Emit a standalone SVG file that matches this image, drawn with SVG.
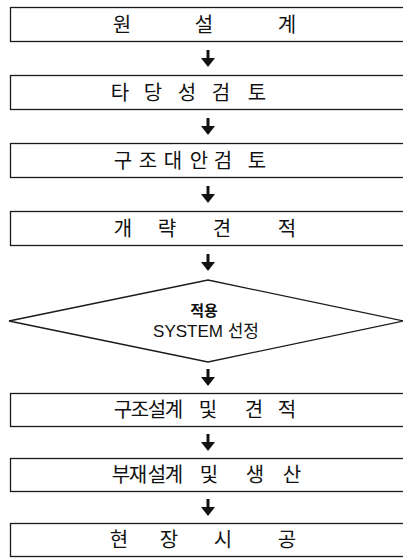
<svg xmlns="http://www.w3.org/2000/svg" width="403" height="559" viewBox="0 0 403 559">
<defs>
<style>
.box{fill:#fff;stroke:#1a1a1a;stroke-width:1.3}
.t{font-family:"Noto Sans CJK KR","Liberation Sans",sans-serif;font-size:20px;fill:#111;text-anchor:middle}
.d{font-family:"Liberation Sans","Noto Sans CJK KR",sans-serif;font-size:17px;fill:#111;text-anchor:middle}
.dk{font-family:"Noto Sans CJK KR","Liberation Sans",sans-serif;font-size:15px;font-weight:bold;fill:#111;text-anchor:middle}
.c{stroke:#111;stroke-width:3;fill:none}
</style>
<marker id="ah" markerUnits="userSpaceOnUse" markerWidth="9" markerHeight="14" viewBox="0 0 9 14" refX="0" refY="7" orient="auto">
<path d="M0,0 L9,7 L0,14 Z" fill="#111"/>
</marker>
</defs>
<rect width="403" height="559" fill="#fff"/>

<g id="connectors">
<line class="c" x1="208" y1="50" x2="208" y2="58" marker-end="url(#ah)"/>
<line class="c" x1="208" y1="118" x2="208" y2="126" marker-end="url(#ah)"/>
<line class="c" x1="208" y1="186" x2="208" y2="194" marker-end="url(#ah)"/>
<line class="c" x1="208" y1="254" x2="208" y2="262" marker-end="url(#ah)"/>
<line class="c" x1="208" y1="369" x2="208" y2="377" marker-end="url(#ah)"/>
<line class="c" x1="208" y1="434" x2="208" y2="442" marker-end="url(#ah)"/>
<line class="c" x1="208" y1="499" x2="208" y2="507" marker-end="url(#ah)"/>
</g>

<g id="n1">
<rect class="box" x="10.5" y="7.5" width="400" height="34"/>
<text class="t" x="122 163 204 245 287" y="32">원 설 계</text>
</g>
<g id="n2">
<rect class="box" x="10.5" y="75.5" width="400" height="34"/>
<text class="t" x="120 136 153 170 187 204 221 239 257" y="100">타 당 성 검 토</text>
</g>
<g id="n3">
<rect class="box" x="10.5" y="143.5" width="400" height="34"/>
<text class="t" x="123 135 148 160 173 186 199 211 223 240 257" y="168">구 조 대 안 검 토</text>
</g>
<g id="n4">
<rect class="box" x="10.5" y="211.5" width="400" height="34"/>
<text class="t" x="123 145 167 195 222 255 287" y="236">개 략 견 적</text>
</g>
<g id="n5">
<polygon class="box" points="9,321 208,280 404,321 208,362"/>
<text class="dk" x="204" y="316">적용</text>
<text class="d" x="206" y="337">SYSTEM 선정</text>
</g>
<g id="n6">
<rect class="box" x="10.5" y="393.5" width="400" height="33"/>
<text class="t" x="123 140 157 174 190 208 230 254 287" y="417">구조설계 및 견적</text>
</g>
<g id="n7">
<rect class="box" x="10.5" y="458.5" width="400" height="33"/>
<text class="t" x="121 138 157 174 190 209 232 255 292" y="482">부재설계 및 생산</text>
</g>
<g id="n8">
<rect class="box" x="10.5" y="523.5" width="400" height="33"/>
<text class="t" x="119 144 169 196 223 255 287" y="547">현 장 시 공</text>
</g>
</svg>
